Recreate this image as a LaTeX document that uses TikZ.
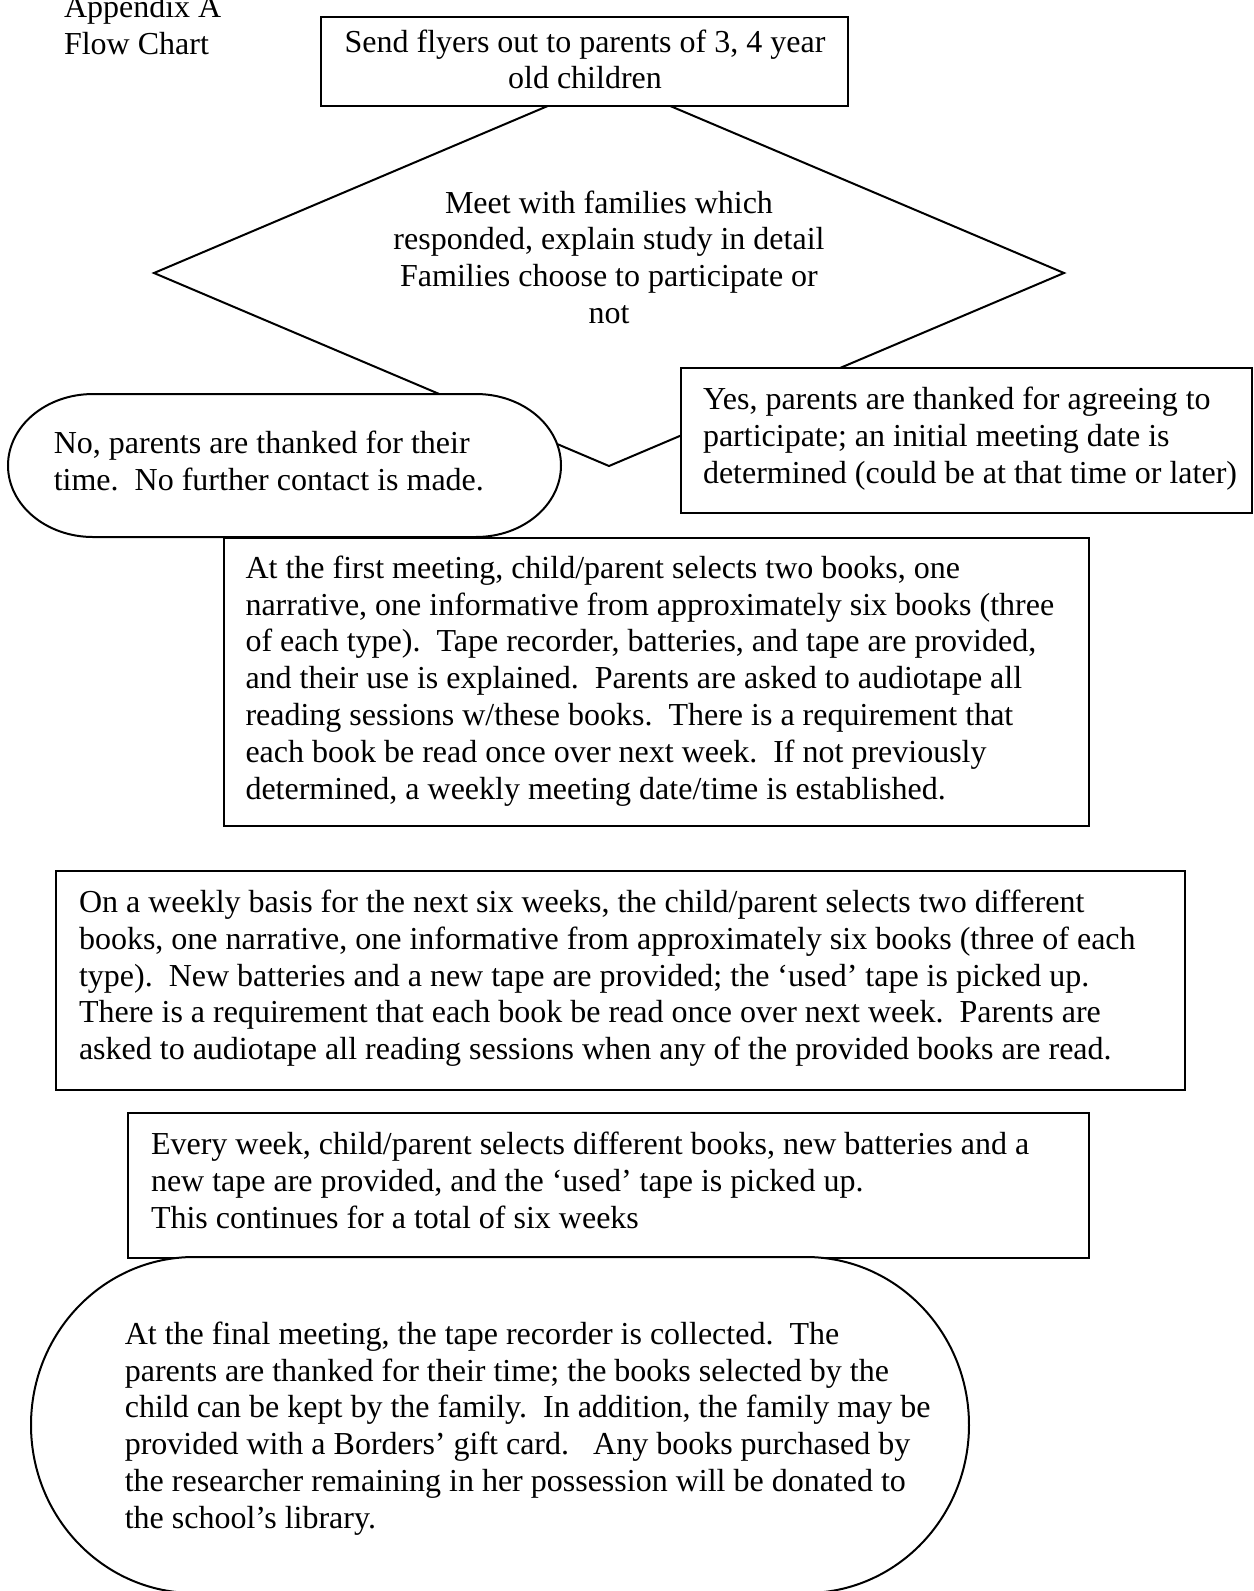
\documentclass[tikz,border=0pt]{standalone}
\usepackage{fontspec}
\setmainfont{Liberation Serif}
\newcommand\mylinesl[1]{\begin{tabular}[t]{@{}l@{}}#1\end{tabular}}
\newcommand\mylinesc[1]{\begin{tabular}[t]{@{}c@{}}#1\end{tabular}}
\begin{document}
\begin{tikzpicture}[x=0.375pt,y=-0.375pt,
  line width=0.75pt,
  shapebox/.style={draw=black, fill=white, inner sep=0pt, rectangle},
  term/.style={draw=black, fill=white},
  txt/.style={inner sep=0pt, anchor=base west, font=\fontsize{12pt}{13.8pt}\selectfont},
  txtc/.style={inner sep=0pt, anchor=base, font=\fontsize{12pt}{13.8pt}\selectfont}]
\fill[white] (0,0) rectangle (1254,1591);
\useasboundingbox (0,0) rectangle (1254,1591);

% title
\node[txt] (title) at (63,17.8) {\mylinesl{Appendix A\\Flow Chart}};

% decision diamond (drawn first, partly hidden by the boxes)
\coordinate (dT) at (609,80);
\coordinate (dR) at (1064,273);
\coordinate (dB) at (609,466);
\coordinate (dL) at (154,273);
\draw (dT) -- (dR) -- (dB) -- (dL) -- cycle;
\node[txtc] (dtext) at (609,213) {\mylinesc{Meet with families which\\responded, explain study in detail\\Families choose to participate or\\not}};

% box 1
\node[shapebox, minimum width=197.6pt, minimum height=33.19pt] (b1) at (584.5,61.25) {};
\node[txtc] (b1t) at (585,52) {\mylinesc{Send flyers out to parents of 3, 4 year\\old children}};

% No terminator
\draw[term] (93,394) -- (476,394)
  arc[start angle=90, end angle=-90, x radius=31.875pt, y radius=26.81pt]
  -- (93,537)
  arc[start angle=270, end angle=90, x radius=31.875pt, y radius=26.81pt] -- cycle;
\node[txt] (not) at (52.8,453.5) {\mylinesl{No, parents are thanked for their\\time.\ \ No further contact is made.}};

% Yes box
\node[shapebox, minimum width=214.1pt, minimum height=54.4pt] (yes) at (966.5,440.5) {};
\node[txt] (yest) at (702,409.8) {\mylinesl{Yes, parents are thanked for agreeing to\\participate; an initial meeting date is\\determined (could be at that time or later)}};

% Box 3
\node[shapebox, minimum width=324.2pt, minimum height=108.1pt] (b3) at (656.3,681.85) {};
\node[txt] (b3t) at (244.5,578.3) {\mylinesl{At the first meeting, child/parent selects two books, one\\narrative, one informative from approximately six books (three\\of each type).\ \ Tape recorder, batteries, and tape are provided,\\and their use is explained.\ \ Parents are asked to audiotape all\\reading sessions w/these books.\ \ There is a requirement that\\each book be read once over next week.\ \ If not previously\\determined, a weekly meeting date/time is established.}};

% Box 4
\node[shapebox, minimum width=423.45pt, minimum height=82.16pt] (b4) at (620.4,980.05) {};
\node[txt] (b4t) at (78,912.5) {\mylinesl{On a weekly basis for the next six weeks, the child/parent selects two different\\books, one narrative, one informative from approximately six books (three of each\\type).\ \ New batteries and a new tape are provided; the ‘used’ tape is picked up.\\There is a requirement that each book be read once over next week.\ \ Parents are\\asked to audiotape all reading sessions when any of the provided books are read.}};

% Box 5
\node[shapebox, minimum width=360.3pt, minimum height=54.375pt] (b5) at (608.2,1185.5) {};
\node[txt] (b5t) at (150,1154.6) {\mylinesl{Every week, child/parent selects different books, new batteries and a\\new tape are provided, and the ‘used’ tape is picked up.\\This continues for a total of six weeks}};

% Final terminator
\draw[term] (194,1257) -- (806,1257)
  arc[start angle=90, end angle=-90, x radius=61.125pt, y radius=63.0pt]
  -- (194,1593)
  arc[start angle=270, end angle=90, x radius=61.125pt, y radius=63.0pt] -- cycle;
\node[txt] (fint) at (123.8,1344.3) {\mylinesl{At the final meeting, the tape recorder is collected.\ \ The\\parents are thanked for their time; the books selected by the\\child can be kept by the family.\ \ In addition, the family may be\\provided with a Borders’ gift card.\ \ \ Any books purchased by\\the researcher remaining in her possession will be donated to\\the school’s library.}};
\end{tikzpicture}
\end{document}
